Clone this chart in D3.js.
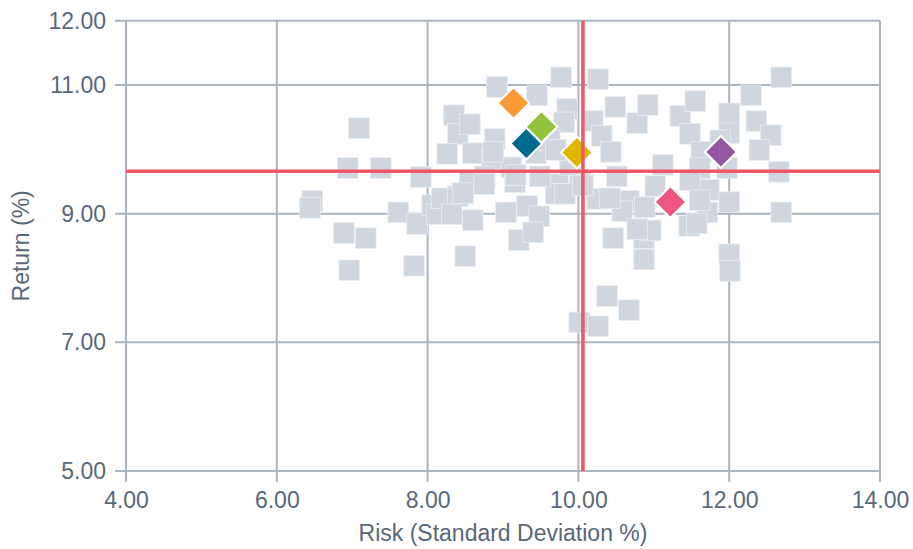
<!DOCTYPE html>
<html>
<head>
<meta charset="utf-8">
<script src="https://cdn.jsdelivr.net/npm/d3@7"></script>
<style>
  html, body { margin: 0; padding: 0; background: #ffffff; }
  svg { display: block; }
  text { font-family: "Liberation Sans", Arial, Helvetica, sans-serif; }
</style>
</head>
<body>
<div id="chart"></div>
<script>
// ---- Data ----
const xTicks = [4, 6, 8, 10, 12, 14];
const yTicks = [5, 7, 9, 11, 12];
const xLabel = "Risk (Standard Deviation %)";
const yLabel = "Return (%)";

// Peer universe (grey squares)
const peerRisk = [
  6.47, 6.44, 6.89, 6.94, 6.96, 7.09, 7.18, 7.38, 7.61, 7.82,
  7.91, 7.86, 8.06, 8.12, 8.19, 8.35, 8.40, 8.26, 8.56, 8.60,
  8.50, 8.60, 8.56, 8.40, 8.92, 8.89, 8.85, 9.11, 9.16, 8.76,
  9.04, 9.32, 9.48, 9.21, 9.40, 9.45, 9.77, 10.26, 9.85, 9.81,
  10.19, 10.31, 10.43, 10.49, 9.44, 9.62, 9.73, 9.70, 10.25, 10.51,
  10.02, 9.89, 10.78, 10.92, 11.35, 11.55, 11.48, 12.00, 12.00, 12.29,
  12.36, 12.55, 12.40, 12.69, 12.66, 12.69, 11.12, 11.63, 11.61, 11.97,
  11.02, 11.73, 12.00, 11.71, 11.47, 10.67, 10.58, 10.46, 10.87, 10.96,
  10.87, 12.00, 12.01, 10.38, 10.67, 10.01, 10.26, 8.87, 8.47, 8.75,
  9.17, 9.49, 8.32, 9.82, 10.06, 10.42, 9.70, 10.78, 11.48, 11.88,
  10.88, 11.61, 11.57
];
const peerReturn = [
  9.20, 9.09, 8.70, 9.71, 8.12, 10.33, 8.62, 9.71, 9.02, 8.19,
  9.57, 8.84, 9.13, 8.99, 9.24, 10.53, 10.24, 9.93, 10.39, 9.94,
  8.34, 8.90, 9.51, 9.27, 10.97, 10.16, 9.85, 9.72, 9.49, 9.58,
  9.02, 9.12, 8.96, 8.59, 8.71, 10.84, 11.12, 11.09, 10.63, 10.42,
  10.44, 10.21, 9.96, 10.66, 9.94, 10.14, 9.46, 9.31, 9.23, 9.58,
  9.52, 9.76, 10.41, 10.69, 10.52, 10.75, 10.24, 10.56, 10.25, 10.84,
  10.44, 10.22, 9.99, 11.12, 9.65, 9.02, 9.76, 9.96, 9.71, 9.71,
  9.43, 9.37, 9.18, 9.02, 8.81, 9.20, 9.04, 8.62, 8.62, 8.74,
  8.29, 8.37, 8.11, 7.72, 7.50, 7.31, 7.25, 9.96, 9.32, 9.46,
  9.60, 9.58, 8.99, 9.31, 9.44, 9.24, 9.99, 8.76, 9.52, 10.14,
  9.10, 9.21, 8.85
];

// Highlighted funds (diamonds)
const fundRisk   = [9.14, 9.31, 9.51, 9.98, 11.89, 11.22];
const fundReturn = [10.72, 10.09, 10.35, 9.95, 9.96, 9.18];
const fundColors = ["#f89a35", "#006a8f", "#95c33d", "#ddb700", "#9457a3", "#ed5583"];

// Reference (average) lines
const avgRisk = 10.06;
const avgReturn = 9.66;

// ---- Layout ----
const W = 913, H = 549;
const plot = { left: 126, right: 880, top: 20.7, bottom: 471 };
const gridColor = "#aab4bf";
const textColor = "#586879";
const refColor = "#f45868";

const svg = d3.select("#chart").append("svg")
  .attr("width", W).attr("height", H);

const x = d3.scaleLinear().domain([4, 14]).range([plot.left, plot.right]);
const y = d3.scaleLinear().domain([5, 12]).range([plot.bottom, plot.top]);

// Grid
const grid = svg.append("g");
grid.selectAll("line.v").data(xTicks).join("line")
  .attr("x1", d => x(d)).attr("x2", d => x(d))
  .attr("y1", plot.top).attr("y2", plot.bottom + 11)
  .attr("stroke", gridColor).attr("stroke-width", 2);
grid.selectAll("line.h").data(yTicks).join("line")
  .attr("x1", plot.left - 11).attr("x2", plot.right)
  .attr("y1", d => y(d)).attr("y2", d => y(d))
  .attr("stroke", gridColor).attr("stroke-width", 2);

// Axes labels via d3 axes (tick text only)
const fmt = d3.format(".2f");
const xAxis = svg.append("g")
  .attr("transform", `translate(0,${plot.bottom})`)
  .call(d3.axisBottom(x).tickValues(xTicks).tickFormat(fmt).tickSize(0).tickPadding(21));
const yAxis = svg.append("g")
  .attr("transform", `translate(${plot.left},0)`)
  .call(d3.axisLeft(y).tickValues(yTicks).tickFormat(fmt).tickSize(0).tickPadding(20));
[xAxis, yAxis].forEach(a => {
  a.select(".domain").remove();
  a.selectAll("text")
    .attr("fill", textColor)
    .style("font-size", "23px")
    .style("font-family", '"Liberation Sans", Arial, sans-serif');
});

// Peer squares
const peers = peerRisk.map((r, i) => ({ r, ret: peerReturn[i] }));
const sq = 20.6;
svg.append("g").selectAll("rect").data(peers).join("rect")
  .attr("x", d => x(d.r) - sq / 2)
  .attr("y", d => y(d.ret) - sq / 2)
  .attr("width", sq).attr("height", sq)
  .attr("fill", "#cfd6de")
  .attr("stroke", "#e9edf1")
  .attr("stroke-width", 0.8);

// Highlighted diamonds
const funds = fundRisk.map((r, i) => ({ r, ret: fundReturn[i], c: fundColors[i] }));
const side = 22.5;
svg.append("g").selectAll("rect").data(funds).join("rect")
  .attr("x", -side / 2).attr("y", -side / 2)
  .attr("width", side).attr("height", side)
  .attr("transform", d => `translate(${x(d.r)},${y(d.ret)}) rotate(45)`)
  .attr("fill", d => d.c)
  .attr("stroke", "#ffffff")
  .attr("stroke-width", 2);

// Reference lines
svg.append("line")
  .attr("x1", x(avgRisk)).attr("x2", x(avgRisk))
  .attr("y1", plot.top).attr("y2", plot.bottom)
  .attr("stroke", refColor).attr("stroke-width", 3.6);
svg.append("line")
  .attr("x1", plot.left).attr("x2", plot.right)
  .attr("y1", y(avgReturn)).attr("y2", y(avgReturn))
  .attr("stroke", refColor).attr("stroke-width", 3.6);

// Axis titles
svg.append("text")
  .attr("x", (plot.left + plot.right) / 2).attr("y", 541)
  .attr("text-anchor", "middle")
  .attr("fill", textColor)
  .style("font-size", "23px")
  .text(xLabel);
svg.append("text")
  .attr("transform", `translate(29,${(plot.top + plot.bottom) / 2}) rotate(-90)`)
  .attr("text-anchor", "middle")
  .attr("fill", textColor)
  .style("font-size", "23px")
  .text(yLabel);
</script>
</body>
</html>
